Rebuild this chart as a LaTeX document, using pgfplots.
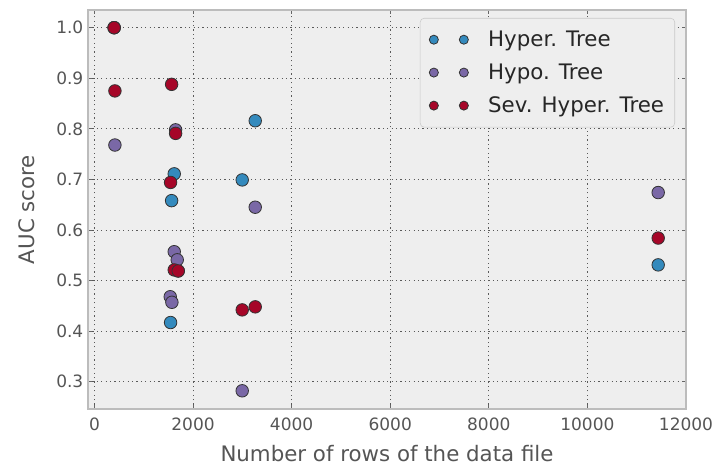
\documentclass[border=0pt]{standalone}
\usepackage{fontspec}
\setmainfont{DejaVu Sans}
\usepackage{pgfplots}
\pgfplotsset{compat=1.18}
\definecolor{cblue}{HTML}{348ABD}
\definecolor{cpurple}{HTML}{7A68A6}
\definecolor{cred}{HTML}{A60628}
\definecolor{bg}{HTML}{EEEEEE}
\definecolor{framec}{HTML}{BCBCBC}
\definecolor{txt}{HTML}{555555}
\definecolor{edgec}{HTML}{333333}
\begin{document}
\begin{tikzpicture}
\begin{axis}[
  scale only axis, width=448.5pt, height=299.25pt,
  xmin=-130, xmax=12000, ymin=0.246, ymax=1.035,
  axis background/.style={fill=bg},
  axis line style={framec, line width=1.3pt},
  grid=major, grid style={black!65, line width=0.7pt, dash pattern=on 0.9pt off 2.4pt},
  xtick={0,2000,4000,6000,8000,10000,12000},
  ytick={0.3,0.4,0.5,0.6,0.7,0.8,0.9,1.0},
  scaled x ticks=false,
  xticklabel style={/pgf/number format/1000 sep={}, yshift=-3.5pt},
  yticklabel style={/pgf/number format/fixed, /pgf/number format/fixed zerofill, /pgf/number format/precision=1},
  /pgf/number format/assume math mode=true,
  tick label style={font=\fontsize{12.75}{14}\selectfont, text=txt},
  label style={font=\fontsize{16}{19}\selectfont, text=txt},
  xlabel={Number of rows of the data file},
  ylabel={AUC score},
  xlabel style={yshift=-4pt},
  ylabel style={yshift=9.5pt},
  tick style={black!60, line width=0.6pt}, major tick length=3pt,
  legend style={at={(rel axis cs:0.9816,0.98)}, anchor=north east, fill=bg, draw=framec!80, rounded corners=3pt,
    font=\fontsize{16}{19}\selectfont, text=black!85, row sep=7.5pt, inner xsep=6pt, inner ysep=7.5pt},
  legend cell align=left,
  legend image code/.code={\path[#1, draw=none, mark size=3.4pt] plot coordinates {(-9.75pt,0pt) (12.75pt,0pt)};
    \path[draw=none] (-14pt,0pt) -- (29pt,0pt);},
  every axis plot/.append style={only marks, mark=*, mark size=4.7pt},
]
\addplot[mark options={fill=cblue, draw=edgec, line width=0.6pt}] coordinates {
 (400,1.0) (1700,0.519) (1619,0.711) (1566,0.658) (1545,0.417) (2998,0.699) (3262,0.816) (11436,0.531)
};
\addlegendentry{Hyper. Tree}
\addplot[mark options={fill=cpurple, draw=edgec, line width=0.6pt}] coordinates {
 (400,1.0) (416,0.768) (1647,0.798) (1619,0.557) (1680,0.541) (1538,0.468) (1572,0.457) (2998,0.282) (3262,0.645) (11436,0.674)
};
\addlegendentry{Hypo. Tree}
\addplot[mark options={fill=cred, draw=edgec, line width=0.6pt}] coordinates {
 (400,1.0) (416,0.875) (1566,0.888) (1647,0.791) (1545,0.694) (1619,0.521) (1700,0.519) (2998,0.442) (3262,0.448) (11436,0.584)
};
\addlegendentry{Sev. Hyper. Tree}
\end{axis}
\pgfresetboundingbox
\path[use as bounding box] ([xshift=-66pt,yshift=-43.5pt]current axis.south west) rectangle ([xshift=21pt,yshift=7.5pt]current axis.north east);
\end{tikzpicture}
\end{document}
